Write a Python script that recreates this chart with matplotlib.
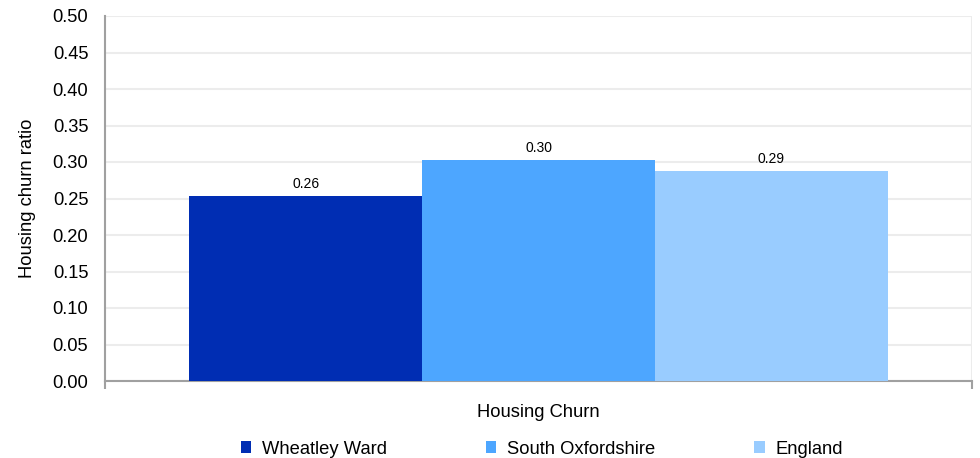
import matplotlib.pyplot as plt
import numpy as np

plt.rcParams['font.family'] = ['Liberation Sans', 'DejaVu Sans']

category = "Housing Churn"
series = ["Wheatley Ward", "South Oxfordshire", "England"]
values = [0.254, 0.303, 0.288]
labels = ["0.26", "0.30", "0.29"]
colors = ["#002db3", "#4da6ff", "#99ccff"]
yticks = [0.0, 0.05, 0.10, 0.15, 0.20, 0.25, 0.30, 0.35, 0.40, 0.45, 0.50]

fs = 13.2

fig = plt.figure(figsize=(9.8, 4.58), dpi=100)
ax = fig.add_axes([105 / 980, 1 - 381 / 458, 867 / 980, 365 / 458])

width = 0.806 / 3
x = np.arange(len(series)) * width - width
for i in range(len(series)):
    ax.bar(x[i], values[i], width=width, color=colors[i], label=series[i], zorder=3)
    ax.text(x[i], values[i] + 0.006, labels[i], ha='center', va='bottom', fontsize=10, color='#000000', zorder=4)

ax.set_xlim(-0.5, 0.5)
ax.set_ylim(0, 0.5)
ax.set_yticks(yticks)
ax.set_yticklabels(["%.2f" % t for t in yticks], fontsize=fs)
ax.set_xticks([-0.5, 0.5])
ax.set_xticklabels(["", ""])
ax.tick_params(axis='x', length=6, color='#a0a0a0', width=1.5)
ax.tick_params(axis='y', length=0, pad=12)
ax.grid(axis='y', color='#ececec', linewidth=1.5, zorder=0)
ax.axvline(0.5, color='#ececec', linewidth=1.5, zorder=0)

for s in ['top', 'right']:
    ax.spines[s].set_visible(False)
ax.spines['left'].set_color('#a0a0a0')
ax.spines['bottom'].set_color('#a0a0a0')
ax.spines['left'].set_linewidth(1.5)
ax.spines['bottom'].set_linewidth(1.5)

ax.set_ylabel("Housing churn ratio", fontsize=fs, labelpad=12)
ax.set_xlabel(category, fontsize=fs, labelpad=7)

fig.legend(loc='center', bbox_to_anchor=(542 / 980, 1 - 449 / 458), ncol=3, frameon=False,
           fontsize=fs, handlelength=0.55, handleheight=0.55, columnspacing=5.4, handletextpad=0.6)

fig.savefig("out.png", dpi=100)
